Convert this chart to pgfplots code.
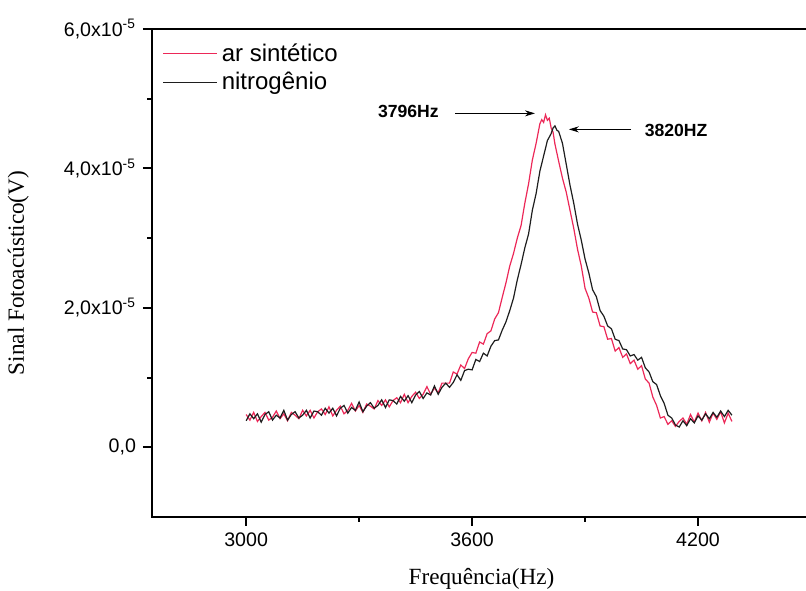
\documentclass[border=0pt]{standalone}
\usepackage{pgfplots}
\pgfplotsset{compat=1.18}
\usetikzlibrary{arrows.meta}
\usepackage{fontspec}
\setmainfont{Liberation Sans}
\newfontfamily\seriffont{Liberation Serif}
\definecolor{redline}{RGB}{236,40,88}
\definecolor{blackline}{RGB}{30,30,30}
\begin{document}
\begin{tikzpicture}
\begin{axis}[name=ax, scale only axis, width=329.5pt, height=244pt,
  xmin=2750, xmax=4500, ymin=-1, ymax=6,
  axis line style={line width=0.9pt},
  tick pos=left, tick align=outside,
  major tick length=4.5pt, minor tick length=2.5pt,
  every tick/.style={black, line width=1pt},
  xtick={3000,3600,4200}, xticklabels={3000,3600,4200},
  minor xtick={3300,3900},
  ytick={0,2,4,6},
  yticklabels={{0,0},{2,0x10\textsuperscript{-5}},{4,0x10\textsuperscript{-5}},{6,0x10\textsuperscript{-5}}},
  minor ytick={1,3,5},
  ticklabel style={font=\fontsize{9.8}{11}\selectfont},
  xlabel={Frequência(Hz)}, ylabel={Sinal Fotoacústico(V)},
  label style={font=\seriffont\fontsize{11.6}{13}\selectfont},
  xlabel style={at={(axis description cs:0.5,-0.127)}, anchor=center},
  ylabel style={at={(axis description cs:-0.203,0.5)}, anchor=center},
  legend style={at={(0,1)}, anchor=north west, draw=none, fill=none,
    font=\fontsize{12}{14}\selectfont, row sep=0pt, cells={anchor=west},
    xshift=2pt, yshift=-3pt},
  legend image code/.code={\draw[#1, line width=0.7pt] (0pt,0pt) -- (27pt,0pt);},
]
\addplot[redline, line width=0.6pt] coordinates {
(3000,0.47)(3010,0.39)(3020,0.50)(3030,0.37)(3040,0.44)(3050,0.50)(3060,0.39)(3070,0.43)(3080,0.52)(3090,0.41)
(3100,0.48)(3110,0.38)(3120,0.50)(3130,0.46)(3140,0.41)(3150,0.53)(3160,0.45)(3170,0.53)(3180,0.42)(3190,0.51)
(3200,0.55)(3210,0.47)(3220,0.58)(3230,0.45)(3240,0.53)(3250,0.59)(3260,0.48)(3270,0.53)(3280,0.63)(3290,0.52)
(3300,0.60)(3310,0.50)(3320,0.62)(3330,0.59)(3340,0.55)(3350,0.67)(3360,0.60)(3370,0.68)(3380,0.58)(3390,0.67)
(3400,0.71)(3410,0.64)(3420,0.76)(3430,0.64)(3440,0.73)(3450,0.79)(3460,0.70)(3470,0.76)(3480,0.87)(3490,0.76)
(3500,0.85)(3510,0.78)(3520,0.92)(3530,0.92)(3540,0.92)(3550,1.08)(3560,1.05)(3570,1.18)(3580,1.13)(3590,1.27)
(3600,1.36)(3610,1.35)(3620,1.51)(3630,1.48)(3640,1.63)(3650,1.67)(3660,1.84)(3670,1.93)(3680,2.15)(3690,2.36)
(3700,2.60)(3710,2.78)(3720,3.00)(3730,3.18)(3740,3.50)(3750,3.78)(3760,4.12)(3770,4.36)(3780,4.64)(3785,4.70)
(3790,4.66)(3795,4.77)(3800,4.69)(3805,4.72)(3810,4.58)(3815,4.52)(3820,4.35)(3830,4.10)(3840,3.86)(3850,3.66)
(3860,3.40)(3870,3.14)(3880,2.84)(3890,2.60)(3900,2.28)(3910,2.14)(3920,1.94)(3930,1.93)(3940,1.74)(3950,1.73)
(3960,1.55)(3970,1.56)(3980,1.38)(3990,1.43)(4000,1.29)(4010,1.34)(4020,1.20)(4030,1.25)(4040,1.12)(4050,1.17)
(4060,0.98)(4070,0.92)(4080,0.72)(4090,0.60)(4100,0.42)(4110,0.44)(4120,0.33)(4130,0.38)(4140,0.30)(4150,0.37)
(4160,0.42)(4170,0.33)(4180,0.47)(4190,0.36)(4200,0.49)(4210,0.38)(4220,0.50)(4230,0.36)(4240,0.49)(4250,0.40)
(4260,0.51)(4270,0.35)(4280,0.49)(4290,0.37)
};
\addlegendentry{ar sintético}
\addplot[blackline, line width=0.6pt] coordinates {
(3000,0.38)(3010,0.48)(3020,0.41)(3030,0.48)(3040,0.36)(3050,0.47)(3060,0.51)(3070,0.39)(3080,0.46)(3090,0.42)
(3100,0.53)(3110,0.39)(3120,0.47)(3130,0.51)(3140,0.42)(3150,0.46)(3160,0.53)(3170,0.42)(3180,0.52)(3190,0.51)
(3200,0.46)(3210,0.56)(3220,0.49)(3230,0.56)(3240,0.45)(3250,0.56)(3260,0.60)(3270,0.49)(3280,0.57)(3290,0.53)
(3300,0.65)(3310,0.51)(3320,0.59)(3330,0.64)(3340,0.56)(3350,0.60)(3360,0.68)(3370,0.57)(3380,0.68)(3390,0.67)
(3400,0.62)(3410,0.73)(3420,0.66)(3430,0.74)(3440,0.64)(3450,0.75)(3460,0.80)(3470,0.70)(3480,0.78)(3490,0.75)
(3500,0.88)(3510,0.76)(3520,0.86)(3530,0.92)(3540,0.86)(3550,0.93)(3560,1.04)(3570,0.96)(3580,1.10)(3590,1.12)
(3600,1.11)(3610,1.26)(3620,1.23)(3630,1.35)(3640,1.31)(3650,1.45)(3660,1.53)(3670,1.54)(3680,1.68)(3690,1.80)
(3700,1.96)(3710,2.14)(3720,2.40)(3730,2.62)(3740,2.86)(3750,3.06)(3760,3.40)(3770,3.64)(3780,3.96)(3790,4.18)
(3800,4.40)(3810,4.50)(3815,4.58)(3820,4.61)(3825,4.55)(3830,4.53)(3840,4.36)(3850,4.06)(3860,3.76)(3870,3.50)
(3880,3.20)(3890,2.97)(3900,2.70)(3910,2.50)(3920,2.26)(3930,2.16)(3940,1.96)(3950,1.88)(3960,1.74)(3970,1.70)
(3980,1.55)(3990,1.53)(4000,1.41)(4010,1.40)(4020,1.31)(4030,1.33)(4040,1.25)(4050,1.29)(4060,1.14)(4070,1.08)
(4080,0.94)(4090,0.90)(4100,0.74)(4110,0.63)(4120,0.46)(4130,0.42)(4140,0.32)(4150,0.29)(4160,0.38)(4170,0.31)
(4180,0.41)(4190,0.35)(4200,0.45)(4210,0.39)(4220,0.48)(4230,0.41)(4240,0.50)(4250,0.43)(4260,0.52)(4270,0.44)
(4280,0.53)(4290,0.46)
};
\addlegendentry{nitrogênio}
\draw[-{Stealth[length=5pt,width=3pt]}, line width=0.5pt] (axis cs:3555,4.79) -- (axis cs:3767,4.79);
\node[anchor=east, font=\bfseries\fontsize{8.8}{10}\selectfont] at (axis cs:3530,4.82) {3796Hz};
\draw[-{Stealth[length=5pt,width=3pt]}, line width=0.5pt] (axis cs:4022,4.56) -- (axis cs:3857,4.56);
\node[anchor=west, font=\bfseries\fontsize{8.8}{10}\selectfont] at (axis cs:4040,4.54) {3820HZ};
\end{axis}
\pgfresetboundingbox
\path[use as bounding box] ([xshift=-76pt,yshift=-37pt]ax.south west) rectangle ([xshift=327pt,yshift=14.5pt]ax.north west);
\end{tikzpicture}
\end{document}
